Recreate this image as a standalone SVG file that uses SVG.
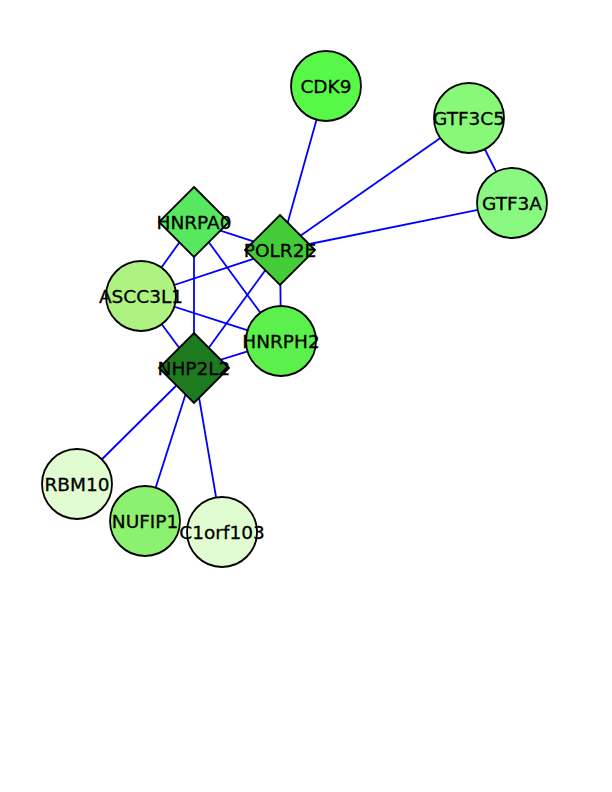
<svg xmlns="http://www.w3.org/2000/svg" width="612" height="792" viewBox="0 0 612 792">
  <style>
    .edge { stroke: #0000ff; stroke-width: 1.8; fill: none; }
    .node { stroke: #000; stroke-width: 1.8; }
    .lbl { font-family: "DejaVu Sans", sans-serif; font-size: 18.5px; fill: #000; stroke: #000; stroke-width: 0.3; text-anchor: middle; dominant-baseline: central; }
  </style>
  <rect width="612" height="792" fill="#fff"/>
  <g id="edges">
    <line class="edge" x1="326" y1="86" x2="280" y2="250"/>
    <line class="edge" x1="469" y1="118" x2="280" y2="250"/>
    <line class="edge" x1="512" y1="203" x2="280" y2="250"/>
    <line class="edge" x1="469" y1="118" x2="512" y2="203"/>
    <line class="edge" x1="194" y1="222" x2="280" y2="250"/>
    <line class="edge" x1="194" y1="222" x2="141" y2="296"/>
    <line class="edge" x1="194" y1="222" x2="194" y2="368"/>
    <line class="edge" x1="194" y1="222" x2="281" y2="341"/>
    <line class="edge" x1="280" y1="250" x2="141" y2="296"/>
    <line class="edge" x1="280" y1="250" x2="281" y2="341"/>
    <line class="edge" x1="280" y1="250" x2="194" y2="368"/>
    <line class="edge" x1="141" y1="296" x2="281" y2="341"/>
    <line class="edge" x1="141" y1="296" x2="194" y2="368"/>
    <line class="edge" x1="194" y1="368" x2="281" y2="341"/>
    <line class="edge" x1="194" y1="368" x2="77" y2="484"/>
    <line class="edge" x1="194" y1="368" x2="145" y2="521"/>
    <line class="edge" x1="194" y1="368" x2="222" y2="532"/>
  </g>
  <g id="CDK9"><circle class="node" cx="326" cy="86" r="35" fill="#58f848"/><text class="lbl" x="326" y="86">CDK9</text></g>
  <g id="GTF3C5"><circle class="node" cx="469" cy="118" r="35" fill="#88f878"/><text class="lbl" x="469" y="118">GTF3C5</text></g>
  <g id="GTF3A"><circle class="node" cx="512" cy="203" r="35" fill="#88f880"/><text class="lbl" x="512" y="203">GTF3A</text></g>
  <g id="ASCC3L1"><circle class="node" cx="141" cy="296" r="35" fill="#aef282"/><text class="lbl" x="141" y="296">ASCC3L1</text></g>
  <g id="HNRPH2"><circle class="node" cx="281" cy="341" r="35" fill="#5cf04c"/><text class="lbl" x="281" y="341">HNRPH2</text></g>
  <g id="HNRPA0"><polygon class="node" points="194,187 229,222 194,257 159,222" fill="#58e860"/><text class="lbl" x="194" y="222">HNRPA0</text></g>
  <g id="POLR2E"><polygon class="node" points="280,215 315,250 280,285 245,250" fill="#44cc38"/><text class="lbl" x="280" y="250">POLR2E</text></g>
  <g id="NHP2L2"><polygon class="node" points="194,333 229,368 194,403 159,368" fill="#1e7a1e"/><text class="lbl" x="194" y="368">NHP2L2</text></g>
  <g id="RBM10"><circle class="node" cx="77" cy="484" r="35" fill="#e0fcd0"/><text class="lbl" x="77" y="484">RBM10</text></g>
  <g id="NUFIP1"><circle class="node" cx="145" cy="521" r="35" fill="#8cf070"/><text class="lbl" x="145" y="521">NUFIP1</text></g>
  <g id="C1orf103"><circle class="node" cx="222" cy="532" r="35" fill="#e0fcd0"/><text class="lbl" x="222" y="532">C1orf103</text></g>
</svg>
